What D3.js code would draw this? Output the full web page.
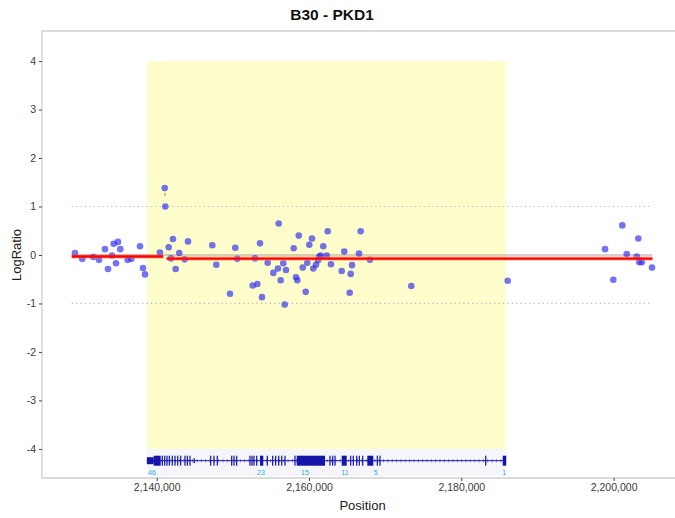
<!DOCTYPE html>
<html>
<head>
<meta charset="utf-8">
<script src="https://cdn.jsdelivr.net/npm/d3@7/dist/d3.min.js"></script>
<style>
  html, body { margin: 0; padding: 0; background: #fff; }
  svg { display: block; font-family: "Liberation Sans", Arial, Helvetica, sans-serif; }
</style>
</head>
<body>
<svg id="chart" width="675" height="518"></svg>
<script>
// Probe positions (bp, chr16) and their log ratios
const probePos = [
  2129270, 2130230, 2131674, 2132423, 2133211, 2133605, 2134130, 2134353, 2134655, 2134918,
  2135220, 2136192, 2136664, 2137807, 2138201, 2138464, 2140433, 2141051, 2141129, 2141576,
  2141878, 2142141, 2142495, 2142968, 2143677, 2144110, 2147301, 2147827, 2149626, 2150322,
  2150584, 2152607, 2152909, 2153211, 2153566, 2153828, 2154577, 2155312, 2155929, 2156021,
  2156284, 2156625, 2156809, 2156980, 2157991, 2158293, 2158464, 2158647, 2159173, 2159567,
  2159777, 2160040, 2160394, 2160565, 2160919, 2161182, 2161353, 2161536, 2161878, 2162324,
  2162456, 2162889, 2164294, 2164636, 2165345, 2165476, 2165647, 2166566, 2166789, 2168011,
  2173434, 2186093, 2198871, 2199961, 2201143, 2201720, 2203034, 2203244, 2203375, 2203690,
  2205043
];
const probeRatio = [
  0.04, -0.08, -0.04, -0.10, 0.12, -0.29, -0.01, 0.23, -0.17, 0.27,
  0.12, -0.10, -0.08, 0.18, -0.27, -0.40, 0.05, 1.38, 1.00, 0.16,
  -0.07, 0.33, -0.29, 0.04, -0.09, 0.28, 0.20, -0.20, -0.80, 0.15,
  -0.08, -0.63, -0.07, -0.60, 0.24, -0.87, -0.16, -0.37, -0.28, 0.65,
  -0.52, -0.17, -1.02, -0.31, 0.14, -0.46, -0.52, 0.40, -0.26, -0.76,
  -0.16, 0.21, 0.34, -0.28, -0.20, -0.11, -0.03, -0.01, 0.18, -0.01,
  0.49, -0.19, -0.33, 0.07, -0.78, -0.39, -0.21, 0.03, 0.49, -0.10,
  -0.64, -0.53, 0.12, -0.51, 0.61, 0.02, -0.03, 0.34, -0.15, -0.15,
  -0.26
];

// Segmentation calls
const segStart = [2128840, 2141050, 2141310];
const segEnd   = [2140870, 2141130, 2205100];
const segMean  = [-0.03, 1.25, -0.075];

// Gene region (PKD1) and its exons
const geneName = "PKD1";
const sampleName = "B30";
const geneStart = 2138711;
const geneEnd = 2185899;
const utrStart = [2138711];
const utrEnd   = [2139600];
const exonStart = [
  2139600, 2140655, 2140971, 2141273, 2141575, 2141969, 2142323, 2142678, 2143072, 2143636,
  2143938, 2144293, 2147011, 2147445, 2147878, 2149769, 2150071, 2150426, 2152172, 2152435,
  2152697, 2153052, 2153566, 2154444, 2155153, 2155547, 2155941, 2156335, 2156768, 2158081,
  2158385, 2162678, 2163033, 2163335, 2164294, 2165396, 2165738, 2166184, 2166526, 2166972,
  2167656, 2168889, 2169244, 2183124, 2185437
];
const exonEnd = [
  2140525, 2140815, 2141131, 2141433, 2141735, 2142129, 2142483, 2142838, 2143232, 2143796,
  2144098, 2144453, 2147171, 2147605, 2148038, 2149929, 2150231, 2150586, 2152332, 2152595,
  2152857, 2153212, 2154000, 2154604, 2155313, 2155707, 2156101, 2156495, 2156928, 2158241,
  2162105, 2162838, 2163193, 2163495, 2164951, 2165556, 2165898, 2166344, 2166686, 2167132,
  2168444, 2169049, 2169404, 2183284, 2185899
];
const smallExonStart = [2144850];
const smallExonEnd   = [2144950];
const exonLabel    = ["46", "23", "15", "11", "5", "1"];
const exonLabelPos = [2139370, 2153700, 2159474, 2164727, 2168759, 2185647];

// Axis ticks
const xTicks = [2140000, 2160000, 2180000, 2200000];
const yTicks = [-4, -3, -2, -1, 0, 1, 2, 3, 4];
const refLevels = [-1, 1];

const svg = d3.select("#chart");
const panel = { left: 42, right: 683, top: 31, bottom: 478 };

const x = d3.scaleLinear().domain([2124940, 2209110]).range([panel.left, panel.right]);
const y = d3.scaleLinear().domain([-4.6, 4.62]).range([panel.bottom, panel.top]);

// highlighted gene region
svg.append("rect")
  .attr("x", x(geneStart)).attr("y", y(4))
  .attr("width", x(geneEnd) - x(geneStart)).attr("height", y(-4) - y(4))
  .attr("fill", "#fefdcc");

// faint band behind the gene model
svg.append("rect")
  .attr("x", x(geneStart)).attr("y", y(-4))
  .attr("width", x(geneEnd) - x(geneStart)).attr("height", panel.bottom - 2 - y(-4))
  .attr("fill", "#f6f6fa");

const spanStart = d3.min(segStart), spanEnd = d3.max(segEnd);

// dotted reference lines at +/-1
svg.selectAll("line.ref").data(refLevels).enter().append("line")
  .attr("class", "ref")
  .attr("x1", x(spanStart)).attr("x2", x(spanEnd))
  .attr("y1", d => y(d)).attr("y2", d => y(d))
  .attr("stroke", "#b8b8b8").attr("stroke-width", 1.2)
  .attr("stroke-dasharray", "1.2,3.2");

// zero line
svg.append("line")
  .attr("x1", x(spanStart)).attr("x2", x(spanEnd))
  .attr("y1", y(0)).attr("y2", y(0))
  .attr("stroke", "#9a9a9a").attr("stroke-opacity", 0.45).attr("stroke-width", 2);

// probes
svg.selectAll("circle.probe").data(probePos).enter().append("circle")
  .attr("class", "probe")
  .attr("cx", d => x(d)).attr("cy", (d, i) => y(probeRatio[i]))
  .attr("r", 3.3)
  .attr("fill", "#2a2aee").attr("fill-opacity", 0.66);

// segments
const segs = segStart.map((s, i) => ({ s, e: segEnd[i], m: segMean[i] }));
svg.selectAll("line.seghalo").data(segs).enter().append("line")
  .attr("class", "seghalo")
  .attr("x1", d => x(d.s)).attr("x2", d => x(d.e))
  .attr("y1", d => y(d.m)).attr("y2", d => y(d.m))
  .attr("stroke", "#ff7a50").attr("stroke-opacity", 0.45).attr("stroke-width", 4.5);
svg.selectAll("line.seg").data(segs).enter().append("line")
  .attr("class", "seg")
  .attr("x1", d => x(d.s)).attr("x2", d => x(d.e))
  .attr("y1", d => y(d.m)).attr("y2", d => y(d.m))
  .attr("stroke", "#ff0000").attr("stroke-width", 2.4);

// gene model
const trackY = 460.7;
const geneColor = "#1414a8";
const g = svg.append("g");
g.append("line")
  .attr("x1", x(geneStart)).attr("x2", x(geneEnd))
  .attr("y1", trackY).attr("y2", trackY)
  .attr("stroke", geneColor).attr("stroke-width", 1);
// strand marks along the gene body
const strandMarks = d3.range(geneStart + 300, geneEnd - 200, 570);
g.selectAll("line.strand").data(strandMarks).enter().append("line")
  .attr("class", "strand")
  .attr("x1", d => x(d)).attr("x2", d => x(d))
  .attr("y1", trackY - 1.8).attr("y2", trackY + 1.8)
  .attr("stroke", geneColor).attr("stroke-opacity", 0.55).attr("stroke-width", 0.8);
g.selectAll("rect.utr").data(utrStart).enter().append("rect")
  .attr("class", "utr")
  .attr("x", d => x(d)).attr("width", (d, i) => x(utrEnd[i]) - x(d))
  .attr("y", trackY - 3.5).attr("height", 7)
  .attr("fill", geneColor);
g.selectAll("rect.exon").data(exonStart).enter().append("rect")
  .attr("class", "exon")
  .attr("x", d => x(d)).attr("width", (d, i) => Math.max(1.2, x(exonEnd[i]) - x(d)))
  .attr("y", trackY - 5).attr("height", 10)
  .attr("fill", geneColor);
g.selectAll("rect.sexon").data(smallExonStart).enter().append("rect")
  .attr("class", "sexon")
  .attr("x", d => x(d)).attr("width", (d, i) => Math.max(1.2, x(smallExonEnd[i]) - x(d)))
  .attr("y", trackY - 2.5).attr("height", 5)
  .attr("fill", geneColor);
g.selectAll("text.exlab").data(exonLabel).enter().append("text")
  .attr("class", "exlab")
  .attr("x", (d, i) => x(exonLabelPos[i])).attr("y", 474.5)
  .attr("text-anchor", "middle")
  .attr("font-size", 7).attr("fill", "#2aa8f0")
  .text(d => d);

// panel border (top, left, bottom)
svg.append("path")
  .attr("d", `M${panel.right},${panel.top}H${panel.left}V${panel.bottom}H${panel.right}`)
  .attr("fill", "none").attr("stroke", "#cfcfcf").attr("stroke-width", 1.3);

// axes (plain hyphen for negative tick labels)
const xAxis = svg.append("g").attr("transform", `translate(0,${panel.bottom})`)
  .call(d3.axisBottom(x).tickValues(xTicks).tickFormat(d3.format(",")).tickSize(3).tickPadding(3));
const yAxis = svg.append("g").attr("transform", `translate(${panel.left},0)`)
  .call(d3.axisLeft(y).tickValues(yTicks).tickFormat(d => String(d)).tickSize(3).tickPadding(3));
[xAxis, yAxis].forEach(a => {
  a.select(".domain").remove();
  a.selectAll(".tick line").attr("stroke", "#444").attr("stroke-width", 1);
  a.selectAll(".tick text").attr("fill", "#3a3a3a").attr("font-size", 10.5)
    .attr("font-family", "'Liberation Sans', Arial, Helvetica, sans-serif");
});

// titles
svg.append("text")
  .attr("x", 332).attr("y", 20)
  .attr("text-anchor", "middle").attr("font-size", 15.5).attr("font-weight", "bold")
  .attr("fill", "#111")
  .text(`${sampleName} - ${geneName}`);
svg.append("text")
  .attr("x", (panel.left + panel.right) / 2).attr("y", 510)
  .attr("text-anchor", "middle").attr("font-size", 13).attr("fill", "#222")
  .text("Position");
svg.append("text")
  .attr("transform", `translate(21,${y(0)}) rotate(-90)`)
  .attr("text-anchor", "middle").attr("font-size", 13).attr("fill", "#222")
  .text("LogRatio");
</script>
</body>
</html>
